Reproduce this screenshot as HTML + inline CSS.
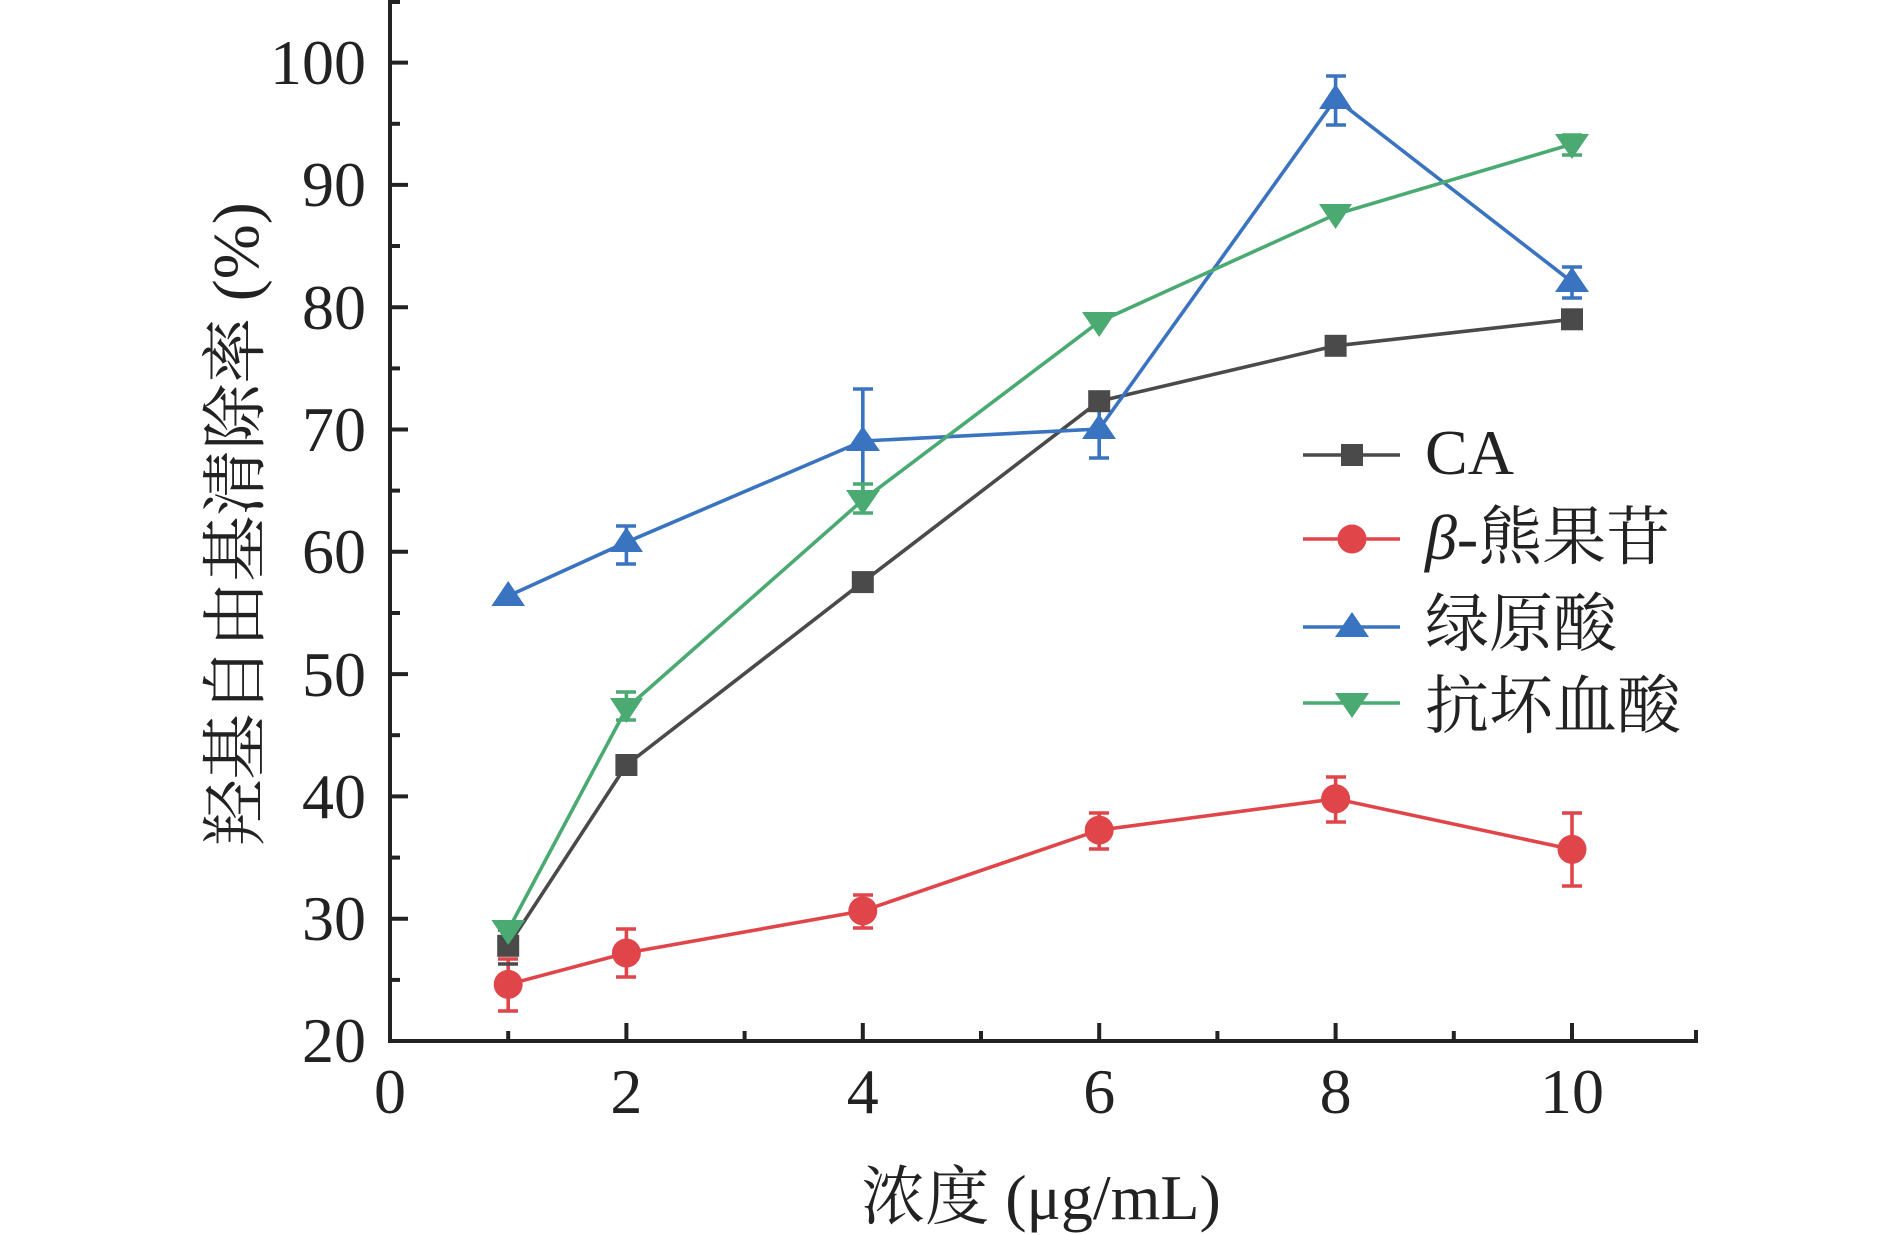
<!DOCTYPE html>
<html><head><meta charset="utf-8"><style>html,body{margin:0;padding:0;background:#fff}svg{display:block}</style></head>
<body>
<svg width="1890" height="1235" viewBox="0 0 1890 1235" xmlns="http://www.w3.org/2000/svg" font-family="'Liberation Serif','Noto Serif CJK SC','Noto Serif CJK JP',serif" fill="#222">
<g stroke="#222" stroke-width="4" stroke-linecap="square">
<line x1="390" y1="0" x2="390" y2="1041"/>
<line x1="390" y1="1041" x2="1696" y2="1041"/>
<line x1="1696" y1="1041" x2="1696" y2="1032"/>
<line x1="626.4" y1="1041" x2="626.4" y2="1025"/><line x1="862.8" y1="1041" x2="862.8" y2="1025"/><line x1="1099.2" y1="1041" x2="1099.2" y2="1025"/><line x1="1335.6" y1="1041" x2="1335.6" y2="1025"/><line x1="1572" y1="1041" x2="1572" y2="1025"/>
<line x1="508.2" y1="1041" x2="508.2" y2="1033"/><line x1="744.6" y1="1041" x2="744.6" y2="1033"/><line x1="981" y1="1041" x2="981" y2="1033"/><line x1="1217.4" y1="1041" x2="1217.4" y2="1033"/><line x1="1453.8" y1="1041" x2="1453.8" y2="1033"/>
<line x1="390" y1="62.6" x2="406" y2="62.6"/><line x1="390" y1="184.9" x2="406" y2="184.9"/><line x1="390" y1="307.2" x2="406" y2="307.2"/><line x1="390" y1="429.5" x2="406" y2="429.5"/><line x1="390" y1="551.8" x2="406" y2="551.8"/><line x1="390" y1="674.1" x2="406" y2="674.1"/><line x1="390" y1="796.4" x2="406" y2="796.4"/><line x1="390" y1="918.7" x2="406" y2="918.7"/>
<line x1="390" y1="2" x2="398" y2="2"/><line x1="390" y1="123.8" x2="398" y2="123.8"/><line x1="390" y1="246" x2="398" y2="246"/><line x1="390" y1="368.4" x2="398" y2="368.4"/><line x1="390" y1="490.6" x2="398" y2="490.6"/><line x1="390" y1="613" x2="398" y2="613"/><line x1="390" y1="735.2" x2="398" y2="735.2"/><line x1="390" y1="857.6" x2="398" y2="857.6"/><line x1="390" y1="979.9" x2="398" y2="979.9"/>
</g>
<g font-size="64" text-anchor="end">
<text x="366" y="84">100</text><text x="366" y="206">90</text><text x="366" y="329">80</text><text x="366" y="451">70</text><text x="366" y="573">60</text><text x="366" y="696">50</text><text x="366" y="818">40</text><text x="366" y="940">30</text><text x="366" y="1062">20</text>
</g>
<g font-size="64" text-anchor="middle">
<text x="390" y="1113">0</text><text x="626.4" y="1113">2</text><text x="862.8" y="1113">4</text><text x="1099.2" y="1113">6</text><text x="1335.6" y="1113">8</text><text x="1572" y="1113">10</text>
</g>
<text x="1041" y="1219" font-size="64" text-anchor="middle">浓度 (μg/mL)</text>
<text transform="translate(258,524) rotate(-90)" font-size="66" text-anchor="middle">羟基自由基清除率 (%)</text>

<g stroke-width="3.6" fill="none">
<g stroke="#e0454a">
<path d="M508.2 959V1011M498 959H518M498 1011H518"/>
<path d="M626.4 929V977M616 929H636M616 977H636"/>
<path d="M862.8 895V928M853 895H873M853 928H873"/>
<path d="M1099.2 813V849M1089 813H1109M1089 849H1109"/>
<path d="M1335.6 777V822M1326 777H1346M1326 822H1346"/>
<path d="M1572 813V886M1562 813H1582M1562 886H1582"/>
</g>
<g stroke="#3a73c0">
<path d="M626.4 526V564M616 526H636M616 564H636"/>
<path d="M862.8 389V493M853 389H873"/>
<path d="M1099.2 401V458M1089 401H1109M1089 458H1109"/>
<path d="M1335.6 76V125M1326 76H1346M1326 125H1346"/>
<path d="M1572 267V298M1562 267H1582M1562 298H1582"/>
</g>
<g stroke="#4aaa72">
<path d="M626.4 692V720M616 692H636M616 720H636"/>
<path d="M862.8 484V513M853 484H873M853 513H873"/>
<path d="M1572 135V155M1562 135H1582M1562 155H1582"/>
</g>
<g stroke="#4a4a4a"><path d="M498 930H518M498 964H518"/></g>
</g>

<g fill="none" stroke-width="3.6">
<polyline stroke="#4a4a4a" points="508.2,945.8 626.4,765 862.8,582.1 1099.2,401.2 1335.6,345.8 1572,319.3"/>
<polyline stroke="#e0454a" points="508.2,984.4 626.4,953 862.8,910.9 1099.2,830.1 1335.6,798.8 1572,849.4"/>
<polyline stroke="#3a73c0" points="508.2,596 626.4,542.2 862.8,441 1099.2,429 1335.6,98.8 1572,281.9"/>
<polyline stroke="#4aaa72" points="508.2,930.1 626.4,708.4 862.8,500 1099.2,321.7 1335.6,214.4 1572,144.1"/>
</g>

<g fill="#4a4a4a">
<rect x="497.2" y="934.8" width="22" height="22"/><rect x="615.4" y="754" width="22" height="22"/><rect x="851.8" y="571.1" width="22" height="22"/><rect x="1088.2" y="390.2" width="22" height="22"/><rect x="1324.6" y="334.8" width="22" height="22"/><rect x="1561" y="308.3" width="22" height="22"/>
</g>
<g fill="#e0454a">
<circle cx="508.2" cy="984.4" r="14.5"/><circle cx="626.4" cy="953" r="14.5"/><circle cx="862.8" cy="910.9" r="14.5"/><circle cx="1099.2" cy="830.1" r="14.5"/><circle cx="1335.6" cy="798.8" r="14.5"/><circle cx="1572" cy="849.4" r="14.5"/>
</g>
<g fill="#3a73c0">
<path d="M508.2 581L525 606H491.4Z"/><path d="M626.4 527L643 552H610Z"/><path d="M862.8 426L880 451H846Z"/><path d="M1099.2 414L1116 439H1082Z"/><path d="M1335.6 84L1352 109H1319Z"/><path d="M1572 267L1589 292H1555Z"/>
</g>
<g fill="#4aaa72">
<path d="M508.2 945L525 920H491.4Z"/><path d="M626.4 723L643 698H610Z"/><path d="M862.8 515L880 490H846Z"/><path d="M1099.2 337L1116 312H1082Z"/><path d="M1335.6 229L1352 204H1319Z"/><path d="M1572 159L1589 134H1555Z"/>
</g>

<g stroke-width="3.6">
<line x1="1303" y1="455" x2="1400" y2="455" stroke="#4a4a4a"/>
<line x1="1303" y1="539" x2="1400" y2="539" stroke="#e0454a"/>
<line x1="1303" y1="627" x2="1400" y2="627" stroke="#3a73c0"/>
<line x1="1303" y1="703" x2="1400" y2="703" stroke="#4aaa72"/>
</g>
<rect x="1341" y="444" width="22" height="22" fill="#4a4a4a"/>
<circle cx="1352" cy="539" r="14.5" fill="#e0454a"/>
<path d="M1352 612L1369 637H1335Z" fill="#3a73c0"/>
<path d="M1352 718L1369 693H1335Z" fill="#4aaa72"/>
<g font-size="64">
<text x="1425" y="474">CA</text>
<text x="1425" y="559"><tspan font-style="italic">β</tspan>-熊果苷</text>
<text x="1425" y="646">绿原酸</text>
<text x="1425" y="728">抗坏血酸</text>
</g>
</svg>
</body></html>
